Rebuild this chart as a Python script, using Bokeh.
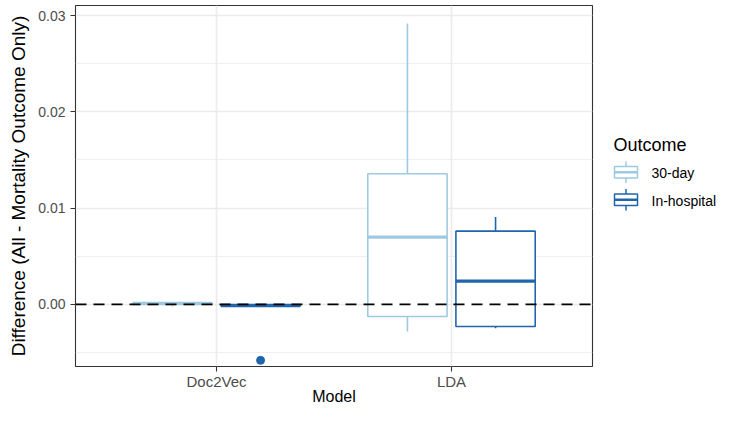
from bokeh.plotting import figure
from bokeh.models import (ColumnDataSource, FactorRange, Range1d, FixedTicker,
                          NumeralTickFormatter, Span)
from bokeh.transform import dodge
from bokeh.layouts import row
from bokeh.embed import file_html
from bokeh.resources import INLINE
from bokeh.core.properties import value

# ---------------- data ----------------
MODELS = ["Doc2Vec", "LDA"]
OUTCOMES = ["30-day", "In-hospital"]
BOX_MODEL = ["Doc2Vec", "Doc2Vec", "LDA", "LDA"]
BOX_OUTCOME = ["30-day", "In-hospital", "30-day", "In-hospital"]
WHISKER_LOW = [-0.0002, -0.0002, -0.0028, -0.00246]
Q1 = [0.00005, -0.00015, -0.00125, -0.00228]
MEDIAN = [0.0001, -0.0001, 0.00699, 0.00242]
Q3 = [0.00015, -0.00005, 0.01357, 0.00761]
WHISKER_HIGH = [0.00015, 0.0, 0.02918, 0.00907]
OUTLIER_MODEL = ["Doc2Vec"]
OUTLIER_OUTCOME = ["In-hospital"]
OUTLIER_VALUE = [-0.0058]
Y_TICKS = [0.00, 0.01, 0.02, 0.03]
Y_MINOR = [-0.005, 0.005, 0.015, 0.025]
REF_LINE = 0.0

COLORS = {"30-day": "#9ECAE1", "In-hospital": "#2166AC"}
OFFSETS = {"30-day": -0.1875, "In-hospital": 0.1875}
BOX_W = 0.3375
FONT = "Liberation Sans"

# ---------------- main plot ----------------
p = figure(width=595, height=407,
           x_range=FactorRange(factors=MODELS, range_padding=0.1,
                               range_padding_units="percent"),
           y_range=Range1d(-0.00644, 0.03104),
           output_backend="svg", toolbar_location=None,
           min_border_left=75, min_border_right=3,
           min_border_top=5, min_border_bottom=39)
p.background_fill_color = "white"
p.border_fill_color = "white"
p.outline_line_color = "#333333"
p.outline_line_width = 1.1

for o in OUTCOMES:
    idx = [i for i, oo in enumerate(BOX_OUTCOME) if oo == o]
    src = ColumnDataSource(dict(
        model=[BOX_MODEL[i] for i in idx],
        low=[WHISKER_LOW[i] for i in idx],
        q1=[Q1[i] for i in idx],
        med=[MEDIAN[i] for i in idx],
        q3=[Q3[i] for i in idx],
        high=[WHISKER_HIGH[i] for i in idx],
    ))
    off = OFFSETS[o]
    c = COLORS[o]
    xc = dodge("model", off, range=p.x_range)
    p.segment(x0=xc, x1=xc, y0="q3", y1="high", source=src,
              line_color=c, line_width=1.6)
    p.segment(x0=xc, x1=xc, y0="low", y1="q1", source=src,
              line_color=c, line_width=1.6)
    p.vbar(x=xc, width=BOX_W, bottom="q1", top="q3", source=src,
           fill_color="white", line_color=c, line_width=1.6)
    p.segment(x0=dodge("model", off - BOX_W / 2, range=p.x_range),
              x1=dodge("model", off + BOX_W / 2, range=p.x_range),
              y0="med", y1="med", source=src, line_color=c, line_width=3.4)

for o in OUTCOMES:
    idx = [i for i, oo in enumerate(OUTLIER_OUTCOME) if oo == o]
    if not idx:
        continue
    osrc = ColumnDataSource(dict(model=[OUTLIER_MODEL[i] for i in idx],
                                 val=[OUTLIER_VALUE[i] for i in idx]))
    p.scatter(x=dodge("model", OFFSETS[o], range=p.x_range), y="val",
              source=osrc, size=8, color=COLORS[o])

p.add_layout(Span(location=REF_LINE, dimension="width", line_color="black",
                  line_width=1.8, line_dash="11 7"))

# axes
p.yaxis.ticker = FixedTicker(ticks=Y_TICKS, minor_ticks=Y_MINOR)
p.ygrid.ticker = FixedTicker(ticks=Y_TICKS, minor_ticks=Y_MINOR)
p.yaxis.formatter = NumeralTickFormatter(format="0.00")
p.yaxis.axis_label = "Difference (All - Mortality Outcome Only)"
p.yaxis.axis_label_standoff = 6
p.xaxis.axis_label = "Model"
p.xaxis.axis_label_standoff = -5

for ax in (p.xaxis[0], p.yaxis[0]):
    ax.axis_line_color = None
    ax.major_tick_line_color = "#333333"
    ax.major_tick_line_width = 1.1
    ax.major_tick_in = 0
    ax.major_tick_out = 5
    ax.minor_tick_in = 0
    ax.minor_tick_out = 0
    ax.major_label_text_font = FONT
    ax.major_label_text_color = "#4D4D4D"
    ax.axis_label_text_font = FONT
    ax.axis_label_text_font_style = "normal"
    ax.axis_label_text_color = "black"
p.yaxis.axis_label_text_font_size = "19px"
p.xaxis.axis_label_text_font_size = "16px"
p.yaxis.major_label_text_font_size = "14px"
p.xaxis.major_label_text_font_size = "15px"
p.yaxis.major_label_standoff = 5
p.xaxis.major_label_standoff = 1

p.ygrid.grid_line_color = "#EBEBEB"
p.ygrid.grid_line_width = 1.6
p.ygrid.minor_grid_line_color = "#EBEBEB"
p.ygrid.minor_grid_line_width = 0.8
p.xgrid.grid_line_color = "#EBEBEB"
p.xgrid.grid_line_width = 1.6

# ---------------- legend panel ----------------
LEG_W = 124
leg = figure(width=LEG_W, height=407, x_range=Range1d(0, LEG_W),
             y_range=Range1d(407, 0), output_backend="svg",
             toolbar_location=None, x_axis_location=None,
             y_axis_location=None, min_border=0)
leg.grid.visible = False
leg.outline_line_color = None
leg.background_fill_color = "white"
leg.border_fill_color = "white"

key_y = [188 + 31 * i for i in range(len(OUTCOMES))]
lsrc = ColumnDataSource(dict(
    outcome=OUTCOMES,
    y=key_y,
    y_box_top=[y - 6.5 for y in key_y],
    y_box_bot=[y + 6.5 for y in key_y],
    y_wh_top=[y - 12 for y in key_y],
    y_wh_bot=[y + 12 for y in key_y],
    y_lab=[y + 1 for y in key_y],
    color=[COLORS[o] for o in OUTCOMES],
))
leg.segment(x0=30.5, x1=30.5, y0="y_wh_top", y1="y_wh_bot", source=lsrc,
            line_color="color", line_width=1.5)
leg.quad(left=19, right=42, top="y_box_top", bottom="y_box_bot", source=lsrc,
         fill_color="white", line_color="color", line_width=1.5)
leg.segment(x0=19, x1=42, y0="y", y1="y", source=lsrc,
            line_color="color", line_width=2.4)
leg.text(x=56, y="y_lab", text="outcome", source=lsrc,
         text_baseline="middle", text_font=value(FONT),
         text_font_size="14px", text_color="black")
leg.text(x=[18], y=[157], text=["Outcome"], text_baseline="middle",
         text_font=value(FONT), text_font_size="18px", text_color="black")

layout = row(p, leg)
open("out.html", "w").write(file_html(layout, INLINE))
